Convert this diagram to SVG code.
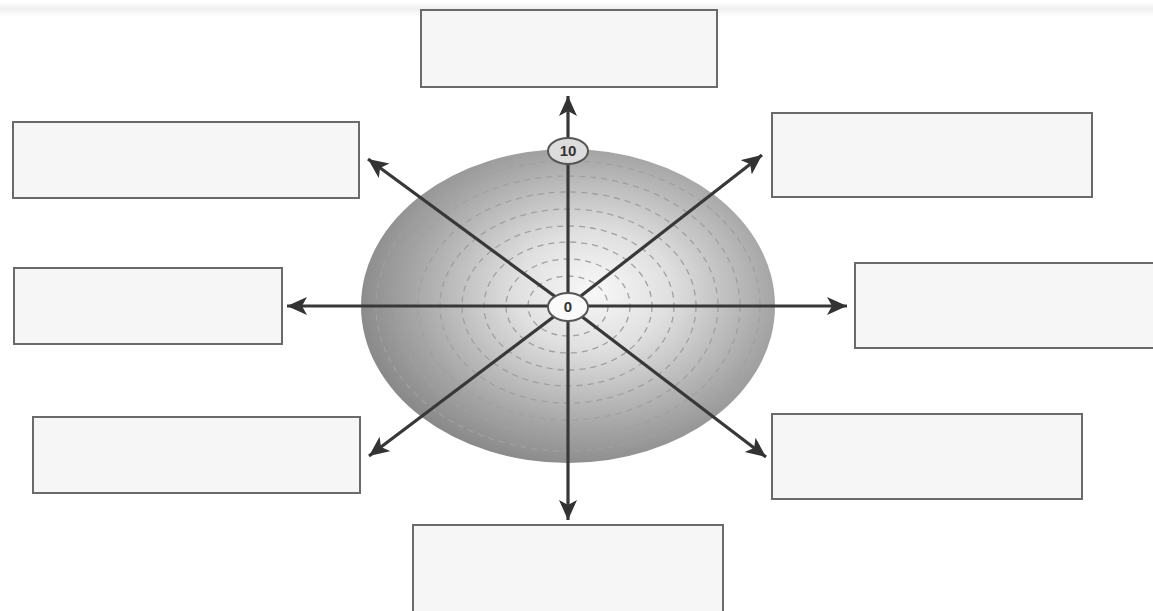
<svg xmlns="http://www.w3.org/2000/svg" width="1153" height="611" viewBox="0 0 1153 611">
<style>
.box{fill:#f6f6f6;stroke:#6a6a6a;stroke-width:2}
.ax{stroke:#383838;stroke-width:3.2;fill:none;marker-end:url(#ah)}
.ring{fill:none;stroke:#a0a0a0;stroke-width:1.3;stroke-dasharray:6 5}
.lbl{font-family:"Liberation Sans",Arial,sans-serif;font-weight:bold;font-size:15px;fill:#333;text-anchor:middle}
</style>
<defs>
<radialGradient id="g" cx="0.56" cy="0.45" r="0.62">
<stop offset="0" stop-color="#f8f8f8"/>
<stop offset="0.3" stop-color="#e0e0e0"/>
<stop offset="0.7" stop-color="#a6a6a6"/>
<stop offset="1" stop-color="#808080"/>
</radialGradient>
<linearGradient id="band" x1="0" y1="0" x2="0" y2="1">
<stop offset="0" stop-color="#ffffff"/>
<stop offset="0.5" stop-color="#efefef"/>
<stop offset="1" stop-color="#ffffff"/>
</linearGradient>
<marker id="ah" markerUnits="userSpaceOnUse" markerWidth="22" markerHeight="20" refX="20" refY="9" orient="auto">
<path d="M0,0 L20,9 L0,18 L5,9 Z" fill="#333"/>
</marker>
</defs>
<rect x="0" y="2" width="1153" height="14" fill="url(#band)"/>
<g id="target">
<ellipse cx="568" cy="306" rx="207" ry="157" fill="url(#g)"/>
<ellipse class="ring" cx="568" cy="306" rx="40" ry="30"/>
<ellipse class="ring" cx="568" cy="306" rx="62" ry="47"/>
<ellipse class="ring" cx="568" cy="306" rx="84" ry="64"/>
<ellipse class="ring" cx="568" cy="306" rx="106" ry="80"/>
<ellipse class="ring" cx="568" cy="306" rx="128" ry="97"/>
<ellipse class="ring" cx="568" cy="306" rx="150" ry="114"/>
<ellipse class="ring" cx="568" cy="306" rx="172" ry="130"/>
<ellipse class="ring" cx="568" cy="306" rx="192" ry="145"/>
</g>
<g id="connectors">
<line class="ax" x1="568" y1="306" x2="568" y2="96"/>
<line class="ax" x1="568" y1="306" x2="568" y2="520"/>
<line class="ax" x1="568" y1="306" x2="287" y2="306"/>
<line class="ax" x1="568" y1="306" x2="847" y2="306"/>
<line class="ax" x1="568" y1="306" x2="368" y2="159"/>
<line class="ax" x1="568" y1="306" x2="762" y2="155"/>
<line class="ax" x1="568" y1="306" x2="369" y2="456"/>
<line class="ax" x1="568" y1="306" x2="766" y2="457"/>
</g>
<g id="label-0">
<ellipse cx="568" cy="307" rx="20" ry="14" fill="#fafafa" stroke="#555" stroke-width="2"/>
<text class="lbl" x="568" y="312">0</text>
</g>
<g id="label-10">
<ellipse cx="568" cy="151" rx="20" ry="13" fill="#dcdcdc" stroke="#555" stroke-width="2"/>
<text class="lbl" x="568" y="156">10</text>
</g>
<g id="box-top"><rect class="box" x="421" y="10" width="296" height="77"/></g>
<g id="box-top-left"><rect class="box" x="13" y="122" width="346" height="76"/></g>
<g id="box-top-right"><rect class="box" x="772" y="113" width="320" height="84"/></g>
<g id="box-left"><rect class="box" x="14" y="268" width="268" height="76"/></g>
<g id="box-right"><rect class="box" x="855" y="263" width="310" height="85"/></g>
<g id="box-bottom-left"><rect class="box" x="33" y="417" width="327" height="76"/></g>
<g id="box-bottom-right"><rect class="box" x="772" y="414" width="310" height="85"/></g>
<g id="box-bottom"><rect class="box" x="413" y="525" width="310" height="100"/></g>
</svg>
